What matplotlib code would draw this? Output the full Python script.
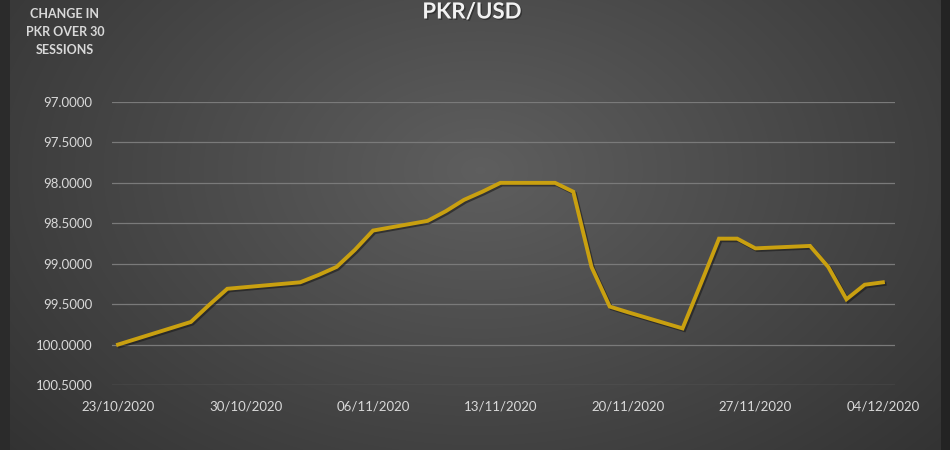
import numpy as np
import matplotlib
matplotlib.use("Agg")
import matplotlib.pyplot as plt
import matplotlib.patheffects as pe
import pandas as pd

# ---- data ----
dates = ['2020-10-23', '2020-10-26', '2020-10-27', '2020-10-28', '2020-10-29',
         '2020-11-02', '2020-11-03', '2020-11-04', '2020-11-05', '2020-11-06',
         '2020-11-09', '2020-11-10', '2020-11-11', '2020-11-12', '2020-11-13',
         '2020-11-16', '2020-11-17', '2020-11-18', '2020-11-19', '2020-11-20',
         '2020-11-23', '2020-11-24', '2020-11-25', '2020-11-26', '2020-11-27',
         '2020-11-30', '2020-12-01', '2020-12-02', '2020-12-03', '2020-12-04']
pkr_usd = [100.00, 99.79, 99.72, 99.51, 99.31,
           99.23, 99.14, 99.04, 98.83, 98.59,
           98.47, 98.35, 98.21, 98.11, 98.00,
           98.00, 98.11, 99.04, 99.53, 99.60,
           99.80, 99.25, 98.69, 98.69, 98.81,
           98.78, 99.04, 99.44, 99.26, 99.23]
tick_dates = ['2020-10-23', '2020-10-30', '2020-11-06', '2020-11-13',
              '2020-11-20', '2020-11-27', '2020-12-04']
y_ticks = [97.0, 97.5, 98.0, 98.5, 99.0, 99.5, 100.0, 100.5]
title = "PKR/USD"
side_note = "CHANGE IN\nPKR OVER 30\nSESSIONS"

plt.rcParams['font.family'] = ['Lato', 'DejaVu Sans']

W, H = 950, 450
fig = plt.figure(figsize=(W / 100, H / 100), dpi=100)

# background radial gradient
bg = fig.add_axes([0, 0, 1, 1])
yy, xx = np.mgrid[0:H, 0:W]
r = np.sqrt(((xx - 480) / 620.0) ** 2 + ((yy - 170) / 420.0) ** 2)
val = 0.37 - 0.17 * np.clip(r, 0, 1.3)
val = np.where(xx < 10, 0.17, val)
val = np.where(xx > 940, 0.14, val)
img = np.dstack([val, val, val])
bg.imshow(img, extent=[0, W, H, 0], aspect='auto', interpolation='bilinear')
bg.set_xlim(0, W)
bg.set_ylim(H, 0)
bg.axis('off')

x = pd.to_datetime(dates)
ax = fig.add_axes([112 / W, (H - 385) / H, (895 - 112) / W, (385 - 102) / H])
ax.patch.set_alpha(0)

ax.plot(x, pkr_usd, color='#C9A010', lw=2.8, solid_joinstyle='miter',
        path_effects=[pe.SimpleLineShadow(offset=(1.2, -1.2), shadow_color='#1a1a1a', alpha=0.6),
                      pe.Normal()], zorder=3)

ax.set_ylim(100.5, 97.0)
ax.set_yticks(y_ticks)
ax.set_yticklabels([f"{v:.4f}" for v in y_ticks])
td = pd.to_datetime(tick_dates)
ax.set_xticks(td)
ax.set_xticklabels([d.strftime('%d/%m/%Y') for d in td])
ax.set_xlim(x[0] - pd.Timedelta(hours=8), x[-1] + pd.Timedelta(hours=16))

ax.grid(axis='y', color='#7a7a7a', lw=0.9)
ax.grid(axis='x', visible=False)
for s in ['top', 'right', 'left', 'bottom']:
    ax.spines[s].set_visible(False)
ax.tick_params(axis='both', length=0, colors='#d9d9d9', labelsize=9.5)
ax.tick_params(axis='y', pad=14)
ax.tick_params(axis='x', pad=11)

fig.text(472 / W, 1 - 12 / H, title, ha='center', va='center', color='#f2f2f2',
         fontsize=16, fontweight='bold',
         path_effects=[pe.withSimplePatchShadow(offset=(1, -1), shadow_rgbFace='#222222', alpha=0.6)])
fig.text(65 / W, 1 - 32 / H, side_note, ha='center', va='center', color='#d9d9d9',
         fontsize=9, fontweight='bold', linespacing=1.6)

fig.savefig('out.png', dpi=100)
